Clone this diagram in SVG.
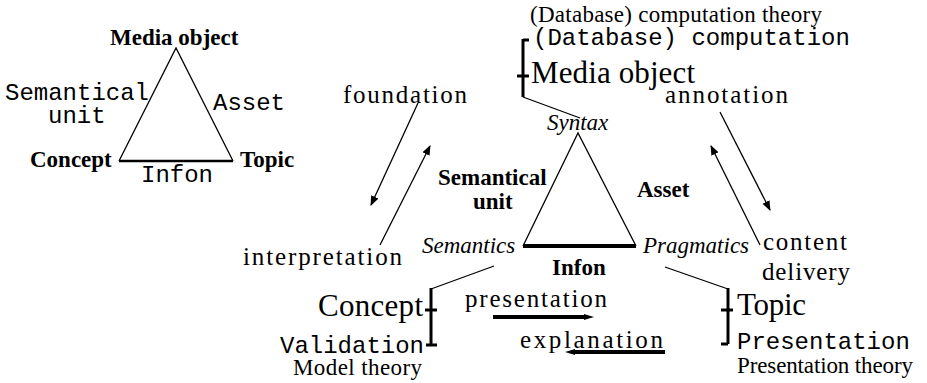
<svg xmlns="http://www.w3.org/2000/svg" width="927" height="383" viewBox="0 0 927 383">
<defs>
<style>
text{fill:#000}
.bd{font-weight:bold;font-size:23px}
.it{font-style:italic;font-size:23px}
.rg{font-size:23px}
.lg{font-size:31px}
.cm{font-size:25px}
.mn{font-size:24px}
.thin{stroke:#000;stroke-width:1.3;fill:none}
.thick{stroke:#000;stroke-width:3;fill:none}
.arr{stroke:#000;stroke-width:1.3;fill:none;marker-end:url(#ah)}
.barr{stroke:#000;stroke-width:4;fill:none}
</style>
<marker id="ah" markerWidth="10" markerHeight="8" refX="9" refY="4" orient="auto" markerUnits="userSpaceOnUse">
<path d="M0,0 L10,4 L0,8 Z" fill="#000"/>
</marker>
</defs>
<rect width="927" height="383" fill="#fff"/>

<g id="small-triangle">
<path class="thin" d="M119,161 L176,48 L233,161"/>
<line x1="119" y1="161" x2="233" y2="161" stroke="#000" stroke-width="2.5"/>
<text class="bd" font-family="Liberation Serif, DejaVu Serif, serif" x="110" y="45">Media object</text>
<text class="bd" font-family="Liberation Serif, DejaVu Serif, serif" x="30" y="167">Concept</text>
<text class="bd" font-family="Liberation Serif, DejaVu Serif, serif" x="240" y="167">Topic</text>
<text class="mn" font-family="Liberation Mono, monospace" x="5" y="100">Semantical</text>
<text class="mn" font-family="Liberation Mono, monospace" x="48" y="123">unit</text>
<text class="mn" font-family="Liberation Mono, monospace" x="213" y="110">Asset</text>
<text class="mn" font-family="Liberation Mono, monospace" x="141" y="182">Infon</text>
</g>

<g id="main-triangle">
<path class="thin" d="M523,246 L578,133 L636,246"/>
<line x1="523" y1="246" x2="636" y2="246" stroke="#000" stroke-width="4"/>
<text class="it" font-family="Liberation Serif, DejaVu Serif, serif" x="547" y="130">Syntax</text>
<text class="it" font-family="Liberation Serif, DejaVu Serif, serif" x="422" y="253">Semantics</text>
<text class="it" font-family="Liberation Serif, DejaVu Serif, serif" x="643" y="253">Pragmatics</text>
<text class="bd" font-family="Liberation Serif, DejaVu Serif, serif" x="438" y="185">Semantical</text>
<text class="bd" font-family="Liberation Serif, DejaVu Serif, serif" x="473" y="209">unit</text>
<text class="bd" font-family="Liberation Serif, DejaVu Serif, serif" x="637" y="197">Asset</text>
<text class="bd" font-family="Liberation Serif, DejaVu Serif, serif" x="552" y="275">Infon</text>
</g>

<g id="media-object">
<text class="rg" font-family="Liberation Serif, DejaVu Serif, serif" x="530" y="22" textLength="292">(Database) computation theory</text>
<text class="mn" font-family="Liberation Mono, monospace" x="533" y="45">(Database) computation</text>
<text class="lg" font-family="Liberation Serif, DejaVu Serif, serif" x="531" y="83" textLength="164">Media object</text>
</g>

<g id="concept">
<text class="lg" font-family="Liberation Serif, DejaVu Serif, serif" x="318" y="316" textLength="105">Concept</text>
<text class="mn" font-family="Liberation Mono, monospace" x="280" y="353">Validation</text>
<text class="rg" font-family="Liberation Serif, DejaVu Serif, serif" x="293" y="375" textLength="129">Model theory</text>
</g>

<g id="topic">
<text class="lg" font-family="Liberation Serif, DejaVu Serif, serif" x="737" y="315" textLength="69">Topic</text>
<text class="mn" font-family="Liberation Mono, monospace" x="737" y="349">Presentation</text>
<text class="rg" font-family="Liberation Serif, DejaVu Serif, serif" x="737" y="373" textLength="176">Presentation theory</text>
</g>

<g id="labels">
<text class="cm" font-family="Liberation Serif, DejaVu Serif, serif" x="343" y="103" textLength="124">foundation</text>
<text class="cm" font-family="Liberation Serif, DejaVu Serif, serif" x="243" y="265" textLength="159">interpretation</text>
<text class="cm" font-family="Liberation Serif, DejaVu Serif, serif" x="665" y="103" textLength="123">annotation</text>
<text class="cm" font-family="Liberation Serif, DejaVu Serif, serif" x="763" y="250" textLength="84">content</text>
<text class="cm" font-family="Liberation Serif, DejaVu Serif, serif" x="762" y="280" textLength="88">delivery</text>
<text class="cm" font-family="Liberation Serif, DejaVu Serif, serif" x="465" y="307" textLength="142">presentation</text>
<text class="cm" font-family="Liberation Serif, DejaVu Serif, serif" x="520" y="348" textLength="143">explanation</text>
</g>

<g id="connectors">
<line class="thick" x1="523" y1="39" x2="523" y2="97"/>
<line class="thick" x1="523" y1="40" x2="529" y2="40"/>
<line class="thick" x1="517" y1="76" x2="529" y2="76"/>
<line class="thin" x1="523" y1="97" x2="580" y2="118"/>

<line class="thin" x1="494" y1="266" x2="431" y2="289"/>
<line class="thick" x1="431" y1="288" x2="431" y2="345"/>
<line class="thick" x1="425" y1="310" x2="437" y2="310"/>
<line class="thick" x1="426" y1="345" x2="437" y2="345"/>

<line class="thin" x1="665" y1="267" x2="728" y2="289"/>
<line class="thick" x1="728" y1="288" x2="728" y2="344"/>
<line class="thick" x1="721" y1="310" x2="733" y2="310"/>
<line class="thick" x1="721" y1="344" x2="728" y2="344"/>

<line class="arr" x1="418" y1="103" x2="371" y2="205"/>
<line class="arr" x1="380" y1="245" x2="430" y2="146"/>
<line class="arr" x1="720" y1="112" x2="770" y2="210"/>
<line class="arr" x1="760" y1="245" x2="711" y2="146"/>

<line class="barr" x1="493" y1="317" x2="585" y2="317"/>
<path d="M584,314 L594,317 L584,320 Z" fill="#000"/>
<line class="barr" x1="574" y1="352" x2="665" y2="352"/>
<path d="M575,349 L565,352 L575,355 Z" fill="#000"/>
</g>
</svg>
